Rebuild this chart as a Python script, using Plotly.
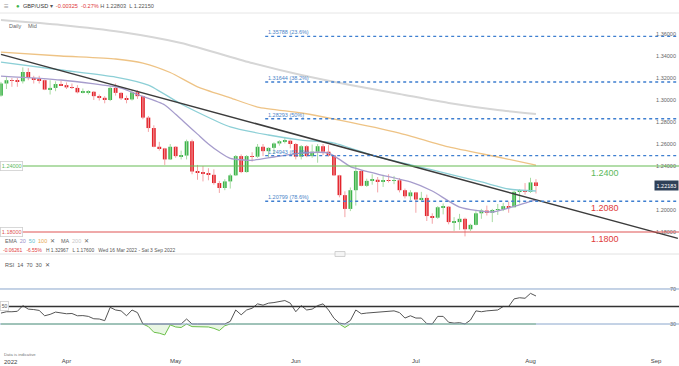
import numpy as np
import plotly.graph_objects as go

# ---------------- data (trading-day index 0 = Wed 16 Mar 2022) ----------------
OPEN = [1.3040, 1.3150, 1.3180, 1.3175, 1.3170, 1.3255, 1.3200, 1.3185, 1.3180, 1.3095,
        1.3110, 1.3145, 1.3135, 1.3115, 1.3110, 1.3070, 1.3070, 1.3075, 1.3035, 1.3020,
        1.3000, 1.3110, 1.3065, 1.3015, 1.3005, 1.3070, 1.3035, 1.2840, 1.2745, 1.2575,
        1.2560, 1.2460, 1.2575, 1.2490, 1.2495, 1.2625, 1.2350, 1.2340, 1.2330, 1.2320,
        1.2245, 1.2200, 1.2260, 1.2315, 1.2490, 1.2345, 1.2490, 1.2485, 1.2575, 1.2535,
        1.2565, 1.2605, 1.2625, 1.2630, 1.2600, 1.2485, 1.2580, 1.2490, 1.2530, 1.2580,
        1.2530, 1.2495, 1.2315, 1.2135, 1.2010, 1.2180, 1.2355, 1.2220, 1.2265, 1.2275,
        1.2255, 1.2270, 1.2265, 1.2270, 1.2180, 1.2125, 1.2160, 1.2095, 1.2110, 1.1945,
        1.1930, 1.2025, 1.2030, 1.1890, 1.1890, 1.1920, 1.1825, 1.1865, 1.1970, 1.1995,
        1.1975, 1.2000, 1.2005, 1.2035, 1.2025, 1.2165, 1.2175, 1.2165, 1.22508]
HIGH = [1.3165, 1.3210, 1.3200, 1.3200, 1.32967, 1.3290, 1.3220, 1.3220, 1.3185, 1.3180,
        1.3170, 1.3175, 1.3160, 1.3150, 1.3135, 1.3105, 1.3090, 1.3080, 1.3050, 1.3035,
        1.3125, 1.3150, 1.3070, 1.3040, 1.3090, 1.3090, 1.3040, 1.2855, 1.2770, 1.2620,
        1.2565, 1.2600, 1.2580, 1.2540, 1.2640, 1.2640, 1.2410, 1.2400, 1.2380, 1.2370,
        1.2265, 1.2280, 1.2330, 1.2500, 1.2505, 1.2500, 1.2525, 1.2600, 1.2600, 1.2570,
        1.2615, 1.2635, 1.2665, 1.2640, 1.2610, 1.2590, 1.2590, 1.2595, 1.2600, 1.2600,
        1.2590, 1.2500, 1.2320, 1.2170, 1.2205, 1.2405, 1.2360, 1.2285, 1.2325, 1.2300,
        1.2320, 1.2325, 1.2310, 1.2290, 1.2195, 1.2180, 1.2165, 1.2165, 1.2140, 1.1970,
        1.2035, 1.2060, 1.2035, 1.1935, 1.1965, 1.1930, 1.1875, 1.1990, 1.2010, 1.2040,
        1.2010, 1.2055, 1.2065, 1.2075, 1.2175, 1.2190, 1.2245, 1.2293, 1.22803]
LOW = [1.3030, 1.3100, 1.3120, 1.3120, 1.3150, 1.3180, 1.3150, 1.3150, 1.3090, 1.3050,
       1.3080, 1.3130, 1.3100, 1.3100, 1.3060, 1.3060, 1.3050, 1.3000, 1.2995, 1.2970,
       1.2990, 1.3040, 1.3000, 1.2970, 1.2995, 1.3010, 1.2825, 1.2710, 1.2570, 1.2540,
       1.2410, 1.2455, 1.2475, 1.2460, 1.2460, 1.2325, 1.2275, 1.2260, 1.2270, 1.2230,
       1.2155, 1.2180, 1.2195, 1.2310, 1.2335, 1.2340, 1.2440, 1.2475, 1.2490, 1.2475,
       1.2510, 1.2585, 1.2605, 1.2560, 1.2460, 1.2460, 1.2480, 1.2475, 1.2430, 1.2500,
       1.2485, 1.2310, 1.2115, 1.1935, 1.1990, 1.2040, 1.2215, 1.2210, 1.2230, 1.2160,
       1.2210, 1.2250, 1.2235, 1.2160, 1.2105, 1.2090, 1.1975, 1.2080, 1.1900, 1.1875,
       1.1920, 1.1960, 1.1870, 1.1810, 1.1820, 1.1760, 1.1810, 1.1860, 1.1920, 1.1950,
       1.1890, 1.1955, 1.1990, 1.1975, 1.2025, 1.2060, 1.2140, 1.2155, 1.2150]
CLOSE = [1.3150, 1.3180, 1.3175, 1.3170, 1.3255, 1.3200, 1.3185, 1.3180, 1.3095, 1.3110,
         1.3145, 1.3135, 1.3115, 1.3110, 1.3070, 1.3070, 1.3075, 1.3035, 1.3020, 1.3000,
         1.3110, 1.3065, 1.3015, 1.3005, 1.3070, 1.3035, 1.2840, 1.2745, 1.2575, 1.2560,
         1.2460, 1.2575, 1.2490, 1.2495, 1.2625, 1.2350, 1.2340, 1.2330, 1.2320, 1.2245,
         1.2200, 1.2260, 1.2315, 1.2490, 1.2345, 1.2490, 1.2485, 1.2575, 1.2535, 1.2565,
         1.2605, 1.2625, 1.2630, 1.2600, 1.2485, 1.2580, 1.2490, 1.2530, 1.2580, 1.2530,
         1.2495, 1.2315, 1.2135, 1.2010, 1.2180, 1.2355, 1.2220, 1.2265, 1.2275, 1.2255,
         1.2270, 1.2265, 1.2270, 1.2180, 1.2125, 1.2160, 1.2095, 1.2110, 1.1945, 1.1930,
         1.2025, 1.2030, 1.1890, 1.1890, 1.1920, 1.1825, 1.1865, 1.1970, 1.1995, 1.1975,
         1.2000, 1.2005, 1.2035, 1.2025, 1.2165, 1.2175, 1.2165, 1.22508, 1.22183]

EMA20_IDX = [0, 11, 22, 25, 30, 32, 34, 36, 38, 40, 42, 46, 50, 55, 60, 62, 64, 69, 75, 79, 84, 90, 93, 98]
EMA20_VAL = [1.3218, 1.3182, 1.3109, 1.3050, 1.2955, 1.2870, 1.2780, 1.2690, 1.2600, 1.2527, 1.2470, 1.2452,
             1.2482, 1.2518, 1.2518, 1.2460, 1.2395, 1.2327, 1.2255, 1.2173, 1.2027, 1.1982, 1.2018, 1.2091]
EMA50_IDX = [0, 11, 21, 27, 33, 42, 49, 55, 61, 69, 79, 88, 93, 98]
EMA50_VAL = [1.3345, 1.3273, 1.3209, 1.3136, 1.2964, 1.2755, 1.2682, 1.2636, 1.2609, 1.2482, 1.2364, 1.2255, 1.2191, 1.2173]
EMA100_IDX = [0, 11, 21, 26, 31, 36, 42, 47, 55, 62, 73, 82, 91, 98]
EMA100_VAL = [1.3436, 1.3400, 1.3373, 1.3336, 1.3250, 1.3120, 1.3020, 1.2936, 1.2882, 1.2818, 1.2700, 1.2573, 1.2482, 1.2409]
MA200_IDX = [0, 11, 22, 33, 46, 55, 64, 73, 82, 91, 98]
MA200_VAL = [1.3727, 1.3682, 1.3618, 1.3518, 1.3336, 1.3227, 1.3136, 1.3055, 1.2973, 1.2909, 1.2873]

TREND_IDX = [0, 124]
TREND_VAL = [1.3415, 1.1742]

FIB_LEVELS = [1.35788, 1.31644, 1.28293, 1.24943, 1.20799]
FIB_LABELS = ["1.35788 (23.6%)", "1.31644 (38.2%)", "1.28293 (50%)", "1.24943 (61.8%)", "1.20799 (78.6%)"]

RSI = [42.5, 44, 44, 44.5, 51, 47, 46.5, 45.5, 39.4, 41,
       43.6, 42.5, 41.7, 42, 39.4, 39.6, 38.7, 36, 35.7, 33.8,
       49, 46, 45, 39.4, 46, 43, 30, 27, 20.6, 19.5,
       17.5, 29, 26.6, 26, 35.7, 27, 26.6, 26.8, 26.6, 25,
       22.5, 28, 33, 46, 40.5, 46, 48, 53, 51.5, 53.8,
       54.5, 55.7, 56.8, 53.8, 44, 51, 46, 47, 51, 53,
       46, 36.5, 31, 26, 34, 46, 41.7, 42.5, 43, 43.5,
       44, 44.5, 45, 43, 36.8, 39.4, 36.8, 36.8, 30.4, 30,
       38.7, 38.7, 32, 31, 31.5, 29.6, 34.5, 45, 44, 45,
       45.5, 46, 50, 50, 58.7, 60, 59.4, 65, 62]

MONTH_IDX = [12, 32, 54, 76, 97, 120]
MONTH_LABELS = ["Apr", "May", "Jun", "Jul", "Aug", "Sep"]
PRICE_TICKS = [1.36, 1.34, 1.32, 1.30, 1.28, 1.26, 1.24, 1.20, 1.18]
LAST_PRICE = 1.22183

# ---------------- styling constants ----------------
W, H = 679, 366
XR = [-0.18, 124.2]
FIB_START = 48.4
UP, DOWN = "#3cb44b", "#e3232b"
UP_WICK, DOWN_WICK = "#a7dba2", "#f3a3a6"
FONT = "Liberation Sans, Arial, sans-serif"
RED = "#e03a3a"

o, h, l, c = map(np.array, (OPEN, HIGH, LOW, CLOSE))
idx = np.arange(len(c))
up = c >= o

fig = go.Figure()

for mask, col in ((up, UP_WICK), (~up, DOWN_WICK)):
    xs, ys = [], []
    for i in idx[mask]:
        xs += [i, i, None]
        ys += [l[i], h[i], None]
    fig.add_trace(go.Scatter(x=xs, y=ys, mode="lines", line=dict(color=col, width=1),
                             hoverinfo="skip", xaxis="x", yaxis="y"))

for xi, yv, col, wd in ((MA200_IDX, MA200_VAL, "#d6d6d6", 2),
                        (EMA100_IDX, EMA100_VAL, "#eec385", 1.3),
                        (EMA50_IDX, EMA50_VAL, "#8ccfd6", 1.3),
                        (EMA20_IDX, EMA20_VAL, "#a69ccc", 1.3)):
    fig.add_trace(go.Scatter(x=xi, y=yv, mode="lines", line=dict(color=col, width=wd, shape="spline", smoothing=0.6),
                             hoverinfo="skip", xaxis="x", yaxis="y"))

fig.add_trace(go.Bar(x=idx, base=np.minimum(o, c), y=np.maximum(np.abs(c - o), 0.0004), width=0.7,
                     marker=dict(color=np.where(up, UP, DOWN), line=dict(width=0)),
                     xaxis="x", yaxis="y", hoverinfo="skip"))

fig.add_trace(go.Scatter(x=TREND_IDX, y=TREND_VAL, mode="lines", line=dict(color="#3c3c3c", width=1.5),
                         hoverinfo="skip", xaxis="x", yaxis="y"))

rsi = np.array(RSI, dtype=float)
fig.add_trace(go.Scatter(x=idx, y=np.full(len(rsi), 30.0), mode="lines", line=dict(width=0),
                         hoverinfo="skip", xaxis="x2", yaxis="y2"))
fig.add_trace(go.Scatter(x=idx, y=np.minimum(rsi, 30), mode="lines", line=dict(color="#6cc04a", width=1),
                         fill="tonexty", fillcolor="rgba(108,192,74,0.15)", hoverinfo="skip", xaxis="x2", yaxis="y2"))
fig.add_trace(go.Scatter(x=idx, y=np.maximum(rsi, 30), mode="lines", line=dict(color="#555555", width=1),
                         hoverinfo="skip", xaxis="x2", yaxis="y2"))

shapes = []
shapes.append(dict(type="line", xref="paper", x0=0, x1=1, yref="y", y0=1.24, y1=1.24, line=dict(color="#66bb55", width=1.2)))
shapes.append(dict(type="line", xref="paper", x0=0, x1=1, yref="y", y0=1.18, y1=1.18, line=dict(color="#e05555", width=1.2)))
for lv in FIB_LEVELS:
    shapes.append(dict(type="line", xref="x", x0=FIB_START, x1=XR[1], yref="y", y0=lv, y1=lv,
                       line=dict(color="#3f7fd0", width=1.4, dash="dot")))
for lv, col, wd in ((70, "#8aa6cc", 1), (30, "#8aa6cc", 1), (50, "#333333", 1.4)):
    shapes.append(dict(type="line", xref="paper", x0=0, x1=1, yref="y2", y0=lv, y1=lv, layer="above",
                       line=dict(color=col, width=wd)))
shapes.append(dict(type="line", xref="paper", yref="paper", x0=0, x1=1, y0=1 - 13 / H, y1=1 - 13 / H,
                   line=dict(color="#e6e6e6", width=1)))
shapes.append(dict(type="line", xref="paper", yref="paper", x0=0, x1=1, y0=1 - 254 / H, y1=1 - 254 / H,
                   line=dict(color="#e2e2e2", width=1)))
shapes.append(dict(type="rect", xref="paper", yref="paper", x0=335 / W, x1=345 / W, y0=1 - 256.5 / H, y1=1 - 251.5 / H,
                   line=dict(color="#c8c8c8", width=0.8), fillcolor="#f4f4f4", layer="above"))
fig.update_layout(shapes=shapes)


def txt(x, y, s, color="#555", size=6, anchor="left", **kw):
    fig.add_annotation(xref="paper", yref="paper", x=x / W, y=1 - y / H, text=s, showarrow=False,
                       xanchor=anchor, yanchor="middle", font=dict(family=FONT, size=size, color=color), **kw)


def span(s, col):
    return f"<span style='color:{col}'>{s}</span>"


txt(2, 6, "≡", "#999", 8)
txt(14, 6, "●", "#3cb44b", 6)
txt(21, 6, span("GBP/USD", "#333") + " " + span("▾", "#555") + "  " + span("-0.00325  -0.27%", RED)
    + " H 1.22803  L 1.22150", "#555", 5.6)
txt(7, 26, "Daily", "#666", 5.5)
txt(26, 26, "Mid", "#666", 5.5)

txt(3, 241, "EMA  " + span("20", "#9c90c8") + "  " + span("50", "#5cc0cc") + "  " + span("100", "#e8a850")
    + "  ✕", "#666", 5.5)
txt(59, 241, "MA  " + span("200", "#c8c8c8") + "  ✕", "#666", 5.5)
txt(1, 250, span("-0.06261", RED) + "   " + span("-6.55%", RED) + "   H 1.32967   L 1.17600   Wed 16 Mar 2022 - Sat 3 Sep 2022",
    "#555", 4.9)

txt(3, 265, "RSI  14  70  30  ✕", "#555", 5.5)
txt(2, 354, "Data is indicative", "#777", 4.2)
txt(2, 362, "2022", "#444", 6)

fig.add_annotation(xref="paper", yref="y", x=0, y=1.24, text="1.24000", showarrow=False, xanchor="left",
                   font=dict(family=FONT, size=5.5, color="#5cb85c"), bgcolor="white", bordercolor="#cfcfcf",
                   borderwidth=0.8, borderpad=1)
fig.add_annotation(xref="paper", yref="y", x=0, y=1.18, text="1.18000", showarrow=False, xanchor="left",
                   font=dict(family=FONT, size=5.5, color="#e05555"), bgcolor="white", bordercolor="#cfcfcf",
                   borderwidth=0.8, borderpad=1)
fig.add_annotation(xref="paper", yref="y2", x=0, y=50, text="50", showarrow=False, xanchor="left",
                   font=dict(family=FONT, size=5, color="#555"), bgcolor="white", bordercolor="#cfcfcf",
                   borderwidth=0.8, borderpad=1)
for lv, s, col in ((1.24, "1.2400", "#5cb85c"), (1.20799, "1.2080", "#e03a3a"), (1.18, "1.1800", "#e03a3a")):
    fig.add_annotation(xref="paper", yref="y", x=589 / W, y=lv, text=s, showarrow=False, xanchor="left",
                       yanchor="top", yshift=0, font=dict(family=FONT, size=9, color=col))
for lv, s in zip(FIB_LEVELS, FIB_LABELS):
    fig.add_annotation(xref="x", yref="y", x=FIB_START, y=lv, text=s, showarrow=False, xanchor="left",
                       yanchor="bottom", xshift=1, yshift=-1, font=dict(family=FONT, size=5.5, color="#4a84c8"))
fig.add_annotation(xref="paper", yref="y", x=1, y=LAST_PRICE, text="1.22183", showarrow=False, xanchor="right",
                   font=dict(family=FONT, size=5.5, color="white"), bgcolor="#2f4058", borderpad=1.5)

fig.update_layout(
    width=W, height=H, margin=dict(l=0, r=0, t=0, b=0), paper_bgcolor="white", plot_bgcolor="white",
    showlegend=False, hovermode=False,
    xaxis=dict(domain=[0, 1], range=XR, showticklabels=False, showgrid=False, zeroline=False, anchor="y"),
    yaxis=dict(domain=[1 - 254 / H, 1 - 14 / H], range=[1.16, 1.3782], side="right", ticklabelposition="inside",
               tickvals=PRICE_TICKS, ticktext=[f"{v:.5f}" for v in PRICE_TICKS], showgrid=False, zeroline=False,
               ticks="", tickfont=dict(family=FONT, size=5.5, color="#666"), anchor="x"),
    xaxis2=dict(domain=[0, 1], range=XR, anchor="y2", tickvals=MONTH_IDX, ticktext=MONTH_LABELS, showgrid=False,
                zeroline=False, ticks="outside", ticklen=3, tickcolor="rgba(0,0,0,0)",
                tickfont=dict(family=FONT, size=6, color="#444")),
    yaxis2=dict(domain=[1 - 352 / H, 1 - 256 / H], range=[-2, 107.7], side="right", ticklabelposition="inside",
                tickvals=[30, 70], ticktext=["30", "70"], showgrid=False, zeroline=False, ticks="",
                tickfont=dict(family=FONT, size=5.5, color="#666"), anchor="x2"),
)

fig.write_html("out.html", config={"displayModeBar": False},
               post_script="document.body.style.margin='0';document.body.style.overflow='hidden';")
